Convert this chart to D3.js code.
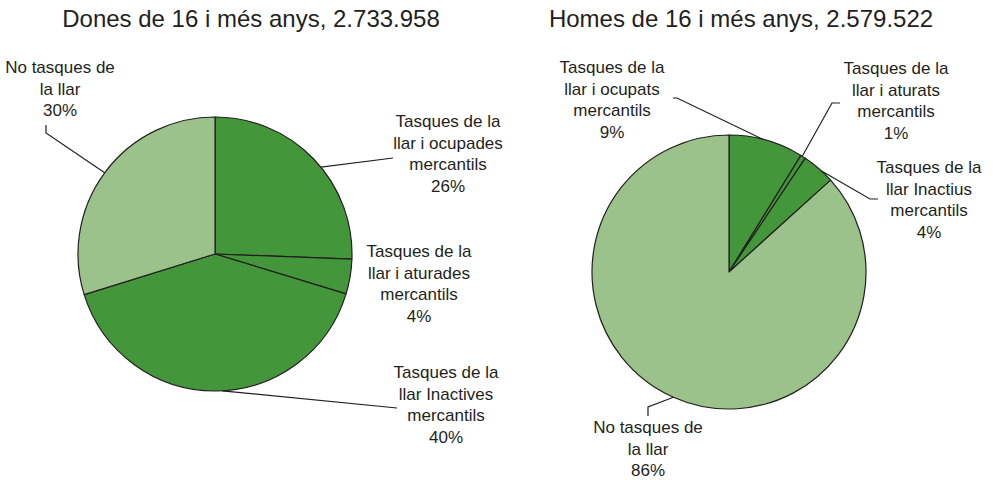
<!DOCTYPE html>
<html>
<head>
<meta charset="utf-8">
<script src="https://cdn.jsdelivr.net/npm/d3@7"></script>
<style>
  body { margin: 0; background: #fff; }
  text { font-family: "Liberation Sans", Arial, sans-serif; fill: #231f20; }
</style>
</head>
<body>
<div id="chart"></div>
<script>
// data
var titles = ["Dones de 16 i més anys, 2.733.958", "Homes de 16 i més anys, 2.579.522"];

var donesCategories = ["Tasques de la llar i ocupades mercantils", "Tasques de la llar i aturades mercantils",
                       "Tasques de la llar Inactives mercantils", "No tasques de la llar"];
var donesValues = [25.6, 4.1, 40.5, 29.8];
var donesPct = ["26%", "4%", "40%", "30%"];
var donesLines = [["Tasques de la", "llar i ocupades", "mercantils"],
                  ["Tasques de la", "llar i aturades", "mercantils"],
                  ["Tasques de la", "llar Inactives", "mercantils"],
                  ["No tasques de", "la llar"]];

var homesCategories = ["Tasques de la llar i ocupats mercantils", "Tasques de la llar i aturats mercantils",
                       "Tasques de la llar Inactius mercantils", "No tasques de la llar"];
var homesValues = [8.8, 0.6, 3.9, 86.7];
var homesPct = ["9%", "1%", "4%", "86%"];
var homesLines = [["Tasques de la", "llar i ocupats", "mercantils"],
                  ["Tasques de la", "llar i aturats", "mercantils"],
                  ["Tasques de la", "llar Inactius", "mercantils"],
                  ["No tasques de", "la llar"]];

var width = 993, height = 480, radius = 137;
var darkGreen = "#43963a", lightGreen = "#9cc28c";
var sliceColors = [darkGreen, darkGreen, darkGreen, lightGreen];

// layout: label position (first baseline), leader points from label side, where on the slice arc the leader lands
var charts = [
  {title: titles[0], titleX: 251, cx: 215, cy: 254,
   values: donesValues, pct: donesPct, lines: donesLines,
   labels: [
     {x: 448, y: 127, leader: [[393, 158]], at: 0.55},
     {x: 419, y: 257, leader: null},
     {x: 446, y: 378, leader: [[397, 408]], at: 0.48},
     {x: 60, y: 73, leader: [[46, 125], [46, 133]], at: 0.5}
   ]},
  {title: titles[1], titleX: 741, cx: 729, cy: 272,
   values: homesValues, pct: homesPct, lines: homesLines,
   labels: [
     {x: 612, y: 73, leader: [[673, 98], [677, 98]], at: 0.45},
     {x: 896, y: 74, leader: [[840, 103], [832, 103]], at: 0.3},
     {x: 929, y: 173, leader: [[878, 199], [870, 199]], at: 0.62},
     {x: 648, y: 433, leader: [[648, 416], [648, 407]], at: 0.5}
   ]}
];

var svg = d3.select("#chart")
  .append("svg")
    .attr("width", width)
    .attr("height", height);

var pie = d3.pie().sort(null).value(function(d) { return d; });
var arc = d3.arc().innerRadius(0).outerRadius(radius);
var lineHeight = 21.5;

charts.forEach(function(c) {
  svg.append("text")
    .attr("x", c.titleX)
    .attr("y", 27)
    .attr("text-anchor", "middle")
    .style("font-size", "24px")
    .text(c.title);

  var g = svg.append("g")
    .attr("transform", "translate(" + c.cx + "," + c.cy + ")");

  var arcs = pie(c.values);

  g.selectAll("path")
    .data(arcs)
    .enter().append("path")
      .attr("d", arc)
      .attr("fill", function(d, i) { return sliceColors[i]; })
      .attr("stroke", "#231f20")
      .attr("stroke-width", 1.2)
      .attr("stroke-linejoin", "round");

  // leader lines
  arcs.forEach(function(d, i) {
    var lab = c.labels[i];
    if (!lab.leader) return;
    var a = d.startAngle + (d.endAngle - d.startAngle) * lab.at;
    var px = c.cx + radius * Math.sin(a), py = c.cy - radius * Math.cos(a);
    var pts = lab.leader.concat([[px, py]]);
    svg.append("path")
      .attr("d", d3.line()(pts))
      .attr("fill", "none")
      .attr("stroke", "#231f20")
      .attr("stroke-width", 1.2);
  });

  // labels
  c.labels.forEach(function(lab, i) {
    var t = svg.append("text")
      .attr("text-anchor", "middle")
      .style("font-size", "17px");
    c.lines[i].concat([c.pct[i]]).forEach(function(s, k) {
      t.append("tspan")
        .attr("x", lab.x)
        .attr("y", lab.y + k * lineHeight)
        .text(s);
    });
  });
});
</script>
</body>
</html>
